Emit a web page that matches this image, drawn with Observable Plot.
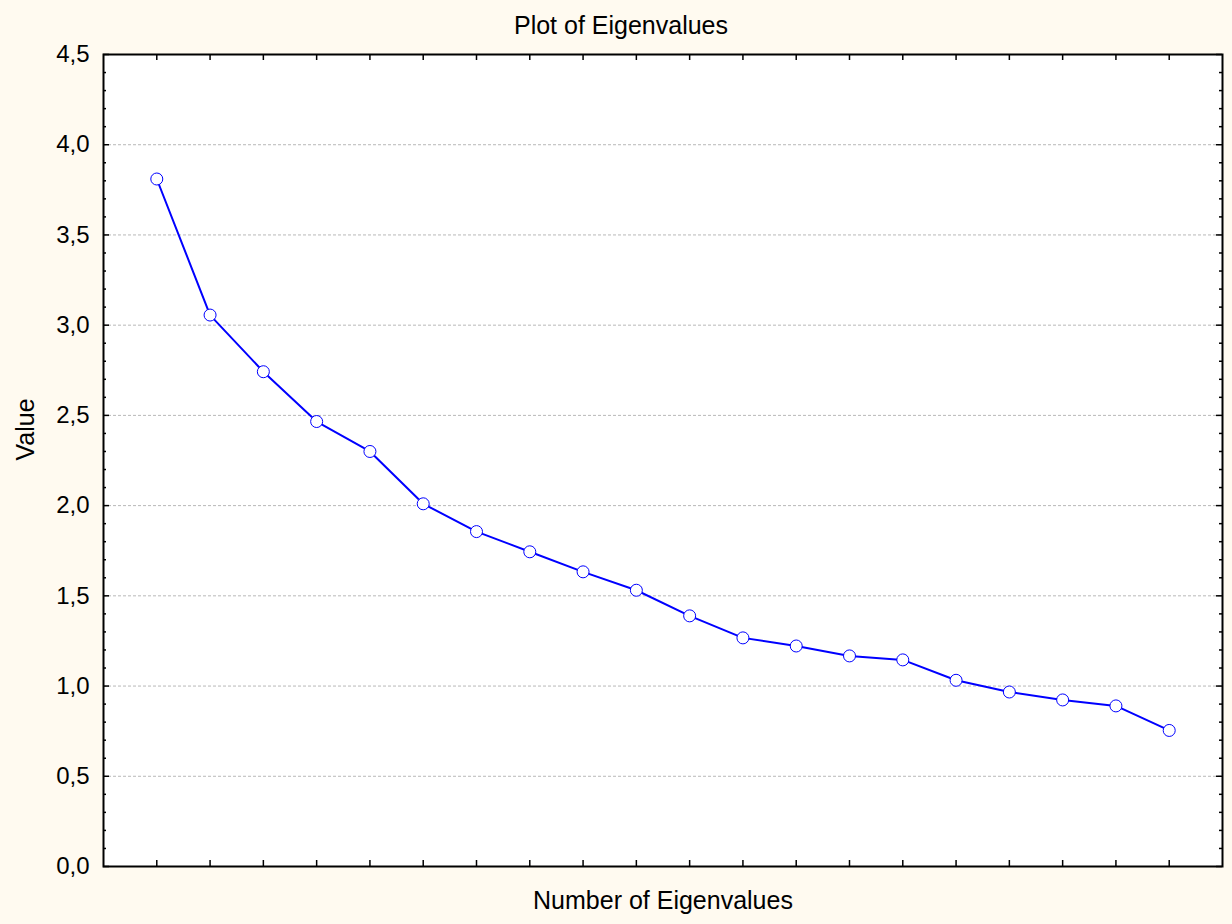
<!DOCTYPE html>
<html><head><meta charset="utf-8">
<script src="https://cdn.jsdelivr.net/npm/d3@7"></script>
<script src="https://cdn.jsdelivr.net/npm/@observablehq/plot@0.6"></script>
<style>html,body{margin:0;padding:0;background:#FFFAF0;} svg{display:block;}</style>
</head><body><div id="chart"></div>
<script>
const eigenNumbers = [1,2,3,4,5,6,7,8,9,10,11,12,13,14,15,16,17,18,19,20];
const eigenValues = [3.810, 3.056, 2.742, 2.466, 2.300, 2.010, 1.856, 1.744, 1.633, 1.531, 1.389, 1.267, 1.222, 1.167, 1.145, 1.032, 0.967, 0.923, 0.890, 0.754];
const yTickValues = [0, 0.5, 1.0, 1.5, 2.0, 2.5, 3.0, 3.5, 4.0, 4.5];
const yTickLabels = ["0,0", "0,5", "1,0", "1,5", "2,0", "2,5", "3,0", "3,5", "4,0", "4,5"];
const yGridValues = [0.5, 1.0, 1.5, 2.0, 2.5, 3.0, 3.5, 4.0];
const titleText = "Plot of Eigenvalues";
const xLabelText = "Number of Eigenvalues";
const yLabelText = "Value";

const W = 1232, H = 924, mL = 103, mR = 10, mT = 54, mB = 58;
const innerW = W - mL - mR, innerH = H - mT - mB;
const data = eigenNumbers.map((n, i) => ({n, v: eigenValues[i]}));
const yTicks = yTickValues.map((v, i) => ({v, label: yTickLabels[i]}));
const minorY = d3.range(1, 45).filter(i => i % 5 !== 0).map(i => i / 10);
const tickStyle = {stroke: "black", strokeWidth: 1.5};

const chart = Plot.plot({
  width: W, height: H,
  marginLeft: mL, marginRight: mR, marginTop: mT, marginBottom: mB,
  style: {background: "#FFFAF0", fontFamily: "'Liberation Sans', Arial, sans-serif", color: "#000"},
  x: {domain: [0, 21], axis: null},
  y: {domain: [0, 4.5], axis: null},
  marks: [
    Plot.frame({fill: "white", stroke: null}),
    Plot.gridY(yGridValues, {stroke: "#b8b8b8", strokeOpacity: 1, strokeWidth: 1, strokeDasharray: "3,2"}),
    Plot.text(yTicks, {y: "v", text: "label", frameAnchor: "left", textAnchor: "end", dx: -14, fontSize: 24}),
    Plot.ruleX(eigenNumbers, {x: d => d, insetTop: innerH - 6, ...tickStyle}),
    Plot.ruleX(eigenNumbers, {x: d => d, insetBottom: innerH - 6, ...tickStyle}),
    Plot.ruleY(yTickValues, {y: d => d, insetRight: innerW - 6, ...tickStyle}),
    Plot.ruleY(yTickValues, {y: d => d, insetLeft: innerW - 6, ...tickStyle}),
    Plot.ruleY(minorY, {y: d => d, insetRight: innerW - 3, ...tickStyle}),
    Plot.ruleY(minorY, {y: d => d, insetLeft: innerW - 3, ...tickStyle}),
    Plot.line(data, {x: "n", y: "v", stroke: "#0000ff", strokeWidth: 2}),
    Plot.dot(data, {x: "n", y: "v", r: 6, fill: "white", stroke: "#0000ff", strokeWidth: 1}),
    Plot.frame({stroke: "black", strokeWidth: 2}),
    Plot.text([titleText], {text: d => d, frameAnchor: "top", lineAnchor: "middle", dx: -42, dy: -29, fontSize: 25}),
    Plot.text([xLabelText], {text: d => d, frameAnchor: "bottom", lineAnchor: "middle", dy: 34, fontSize: 25}),
    Plot.text([yLabelText], {text: d => d, frameAnchor: "left", lineAnchor: "middle", dx: -78, rotate: -90, fontSize: 25})
  ]
});
document.getElementById("chart").appendChild(chart);
</script>
</body></html>
